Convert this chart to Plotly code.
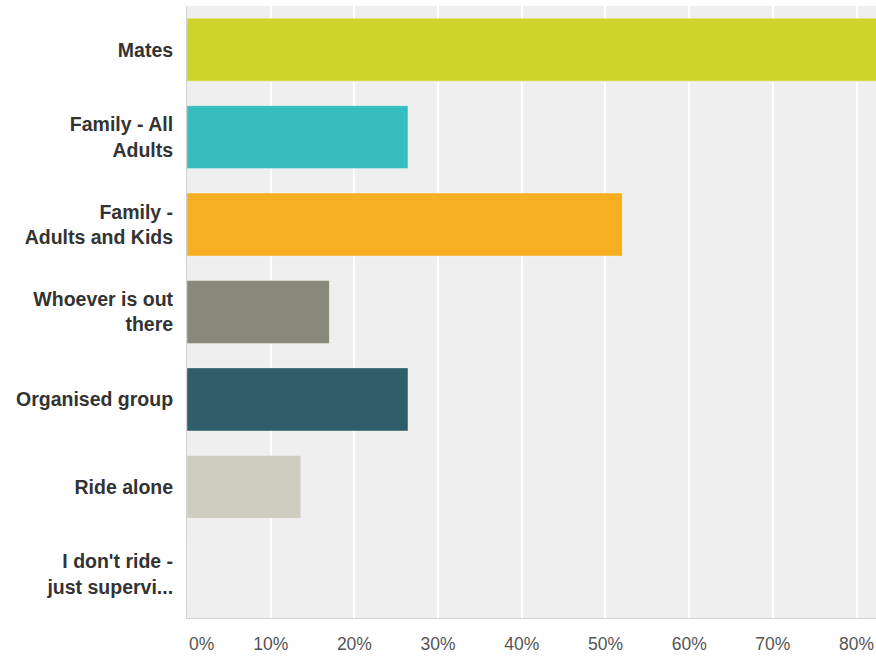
import plotly.graph_objects as go

# Who do you ride with? (share of respondents, %)
categories = [
    "Mates",
    "Family - All<br>Adults",
    "Family -<br>Adults and Kids",
    "Whoever is out<br>there",
    "Organised group",
    "Ride alone",
    "I don't ride -<br>just supervi...",
]
values = [84.0, 26.4, 52.0, 17.0, 26.4, 13.6, 0.0]
bar_colors = ["#cfd42a", "#35bdc0", "#f6af20", "#88897a", "#2f5e6a", "#cfcdbf", "#b9b9b9"]

tick_vals = [0, 10, 20, 30, 40, 50, 60, 70, 80]
tick_text = ["\u2007\u2007\u20070%", "10%", "20%", "30%", "40%", "50%", "60%", "70%", "80%"]

fig = go.Figure(
    go.Bar(
        x=values,
        y=categories,
        orientation="h",
        marker=dict(color=bar_colors, line=dict(color="rgba(255,255,255,0.35)", width=1)),
        hoverinfo="skip",
    )
)

fig.update_layout(
    width=876,
    height=662,
    margin=dict(l=187, r=0, t=6, b=44),
    paper_bgcolor="white",
    plot_bgcolor="#efefef",
    bargap=0.28,
    showlegend=False,
    font=dict(family="Liberation Sans, Arial, sans-serif"),
)

fig.update_xaxes(
    range=[0, 82.32],
    tickvals=tick_vals,
    ticktext=tick_text,
    showgrid=True,
    gridcolor="white",
    gridwidth=2,
    zeroline=False,
    showline=True,
    linecolor="#d2d2d2",
    linewidth=1,
    ticks="outside",
    ticklen=10,
    tickcolor="rgba(0,0,0,0)",
    tickfont=dict(size=17.5, color="#555555"),
    fixedrange=True,
)

fig.update_yaxes(
    autorange="reversed",
    showgrid=False,
    zeroline=False,
    showline=True,
    linecolor="#d2d2d2",
    linewidth=1,
    ticks="outside",
    ticklen=9,
    tickcolor="rgba(0,0,0,0)",
    tickfont=dict(size=19.5, color="#333333", family="Liberation Sans, Arial, sans-serif", weight="bold"),
    fixedrange=True,
)

fig.write_html("out.html")
